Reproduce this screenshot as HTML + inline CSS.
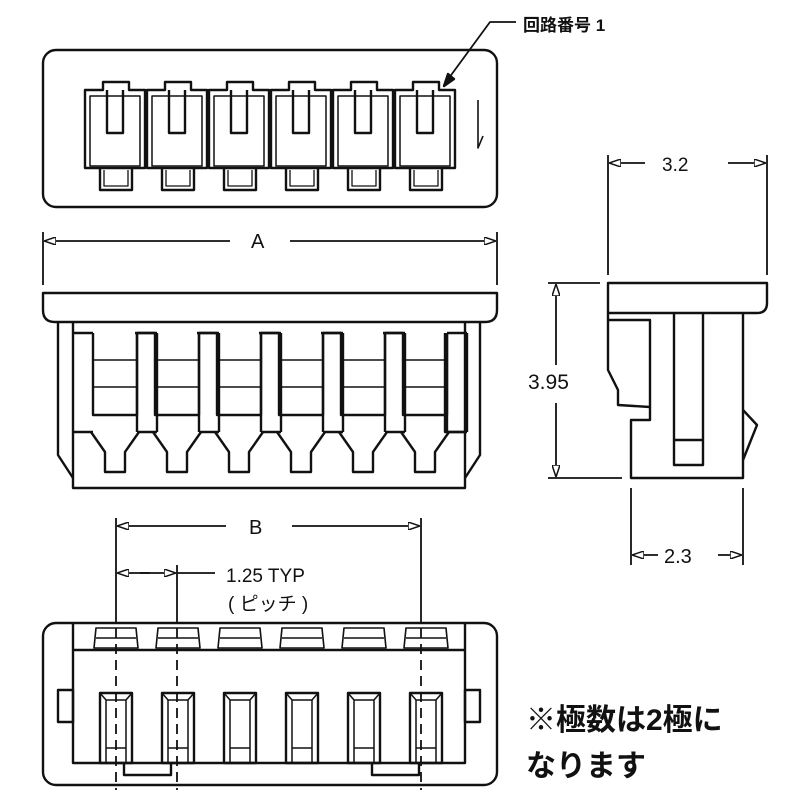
<!DOCTYPE html>
<html><head><meta charset="utf-8">
<style>
html,body{margin:0;padding:0;background:#fff;width:800px;height:800px;overflow:hidden}
svg{display:block}
text{font-family:"Liberation Sans","Noto Sans CJK JP",sans-serif;fill:#111}
</style></head>
<body>
<svg id="s" width="800" height="800" viewBox="0 0 800 800" xmlns="http://www.w3.org/2000/svg">
<defs>
<marker id="ar" markerWidth="12" markerHeight="8" refX="11" refY="4" orient="auto" markerUnits="userSpaceOnUse">
<path d="M0,0 L12,4 L0,8 Z" fill="#fff" stroke="#111" stroke-width="1.5"/>
</marker>
</defs>
<g id="g" fill="none" stroke="#111" stroke-width="2.4" stroke-linejoin="round">
<!-- TOP VIEW -->
<rect x="43" y="50" width="454" height="157" rx="13"/>
<path d="M478 100 L478 148 L483 136" stroke-width="1.6"/>
<path d="M516 22 L490 22 L446 82" stroke-width="1.8"/>
<path d="M444 86 L448 74 L454 79 Z" fill="#111"/>

<!-- FRONT VIEW -->
<path d="M43 293 L497 293 L497 310 Q497 322 485 322 L55 322 Q43 322 43 310 Z"/>
<path d="M58 323 L58 455 L73 478"/>
<path d="M480 323 L480 455 L465 478"/>
<path d="M73 323 L73 488 L465 488 L465 323"/>

<!-- SIDE VIEW -->
<path d="M608 283 L767 283 L767 303 Q767 313 757 313 L608 313 Z"/>
<path d="M608 313 L608 320 L650 320 L650 407 L618 405 L618 390 L608 370 L608 320"/>
<path d="M650 407 L650 420 L631 420 L631 478 L743 478 L743 313"/>
<path d="M674 313 L674 465 L703 465 L703 313"/>
<path d="M675 440 L702 440"/>
<path d="M743 410 L757 425 L743 460"/>

<!-- BOTTOM VIEW -->
<rect x="43" y="623" width="454" height="162" rx="13"/>
<path d="M73 623 L73 763 L465 763 L465 623"/>
<path d="M73 650 L465 650"/>
<rect x="58" y="690" width="15" height="32"/>
<rect x="465" y="690" width="15" height="32"/>
<path d="M124 763 L124 775 L171 775 L171 763"/>
<path d="M372 763 L372 775 L419 775 L419 763"/>
</g>
<g stroke="#111" stroke-width="1.8" fill="none">
<path d="M43 232 L43 285 M497 232 L497 285"/>
<path d="M230 241 L45 241" marker-end="url(#ar)"/>
<path d="M290 241 L495 241" marker-end="url(#ar)"/>
<path d="M608 155 L608 275 M767 155 L767 275"/>
<path d="M645 163 L610 163" marker-end="url(#ar)"/>
<path d="M728 163 L765 163" marker-end="url(#ar)"/>
<path d="M548 283 L600 283 M548 478 L622 478"/>
<path d="M556 365 L556 285" marker-end="url(#ar)"/>
<path d="M556 403 L556 476" marker-end="url(#ar)"/>
<path d="M631 488 L631 565 M743 488 L743 565"/>
<path d="M658 555 L633 555" marker-end="url(#ar)"/>
<path d="M718 555 L741 555" marker-end="url(#ar)"/>
<path d="M116 518 L116 612 M421 518 L421 612 M177 565 L177 612"/>
<path d="M226 526 L118 526" marker-end="url(#ar)"/>
<path d="M292 526 L419 526" marker-end="url(#ar)"/>
<path d="M150 573 L118 573" marker-end="url(#ar)"/>
<path d="M140 573 L175 573" marker-end="url(#ar)"/>
<path d="M177 573 L215 573"/>
<path d="M116 612 L116 790 M177 612 L177 790 M421 612 L421 790" stroke-dasharray="10,6"/>
</g>
<text x="523" y="31" font-size="17" font-weight="bold">回路番号 1</text>
<text x="251" y="248" font-size="20">A</text>
<text x="662" y="171" font-size="19">3.2</text>
<text x="528" y="389" font-size="21">3.95</text>
<text x="664" y="563" font-size="20">2.3</text>
<text x="249" y="534" font-size="20">B</text>
<text x="226" y="582" font-size="19">1.25 TYP</text>
<text x="228" y="610" font-size="19">( ピッチ )</text>
<text x="526" y="730" font-size="30" font-weight="bold">※極数は2極に</text>
<text x="526" y="776" font-size="30" font-weight="bold">なります</text>
</svg>
<script>
var g=document.getElementById('g');var h='';
for(var i=0;i<6;i++){var o=i*62;
h+='<path d="M'+(85+o)+' 168 L'+(85+o)+' 90 L'+(103+o)+' 90 L'+(103+o)+' 82 L'+(129+o)+' 82 L'+(129+o)+' 90 L'+(145+o)+' 90 L'+(145+o)+' 168 Z"/>';
h+='<rect x="'+(90+o)+'" y="96" width="50" height="70" stroke-width="1.5"/>';
h+='<path d="M'+(107+o)+' 90 L'+(107+o)+' 133 L'+(123+o)+' 133 L'+(123+o)+' 90"/>';
h+='<path d="M'+(100+o)+' 168 L'+(100+o)+' 190 L'+(132+o)+' 190 L'+(132+o)+' 168"/>';
h+='<path d="M'+(104+o)+' 170 L'+(104+o)+' 186 L'+(128+o)+' 186 L'+(128+o)+' 170" stroke-width="1.3"/>';
var L=93+o,R=137+o;
h+='<path d="M'+L+' 333 L'+L+' 415 L'+R+' 415 L'+R+' 333"/>';
h+='<path d="M'+L+' 360 L'+R+' 360 M'+L+' 387 L'+R+' 387" stroke-width="1.6"/>';
h+='<path d="M'+(L-20)+' 333 L'+L+' 333 M'+R+' 333 L'+(R+20)+' 333" />';
h+='<path d="M'+(L-2)+' 432 L'+(L+12)+' 452 L'+(L+12)+' 472 L'+(R-12)+' 472 L'+(R-12)+' 452 L'+(R+2)+' 432"/>';
h+='<path d="M'+(R)+' 333 L'+R+' 432 M'+(R+20)+' 333 L'+(R+20)+' 432 M'+R+' 432 L'+(R+20)+' 432"/>';
var bx=100+o;
h+='<rect x="'+bx+'" y="693" width="32" height="70"/>';
h+='<path d="M'+(bx+6)+' 700 L'+(bx+6)+' 763 M'+(bx+26)+' 700 L'+(bx+26)+' 763 M'+bx+' 693 L'+(bx+6)+' 700 L'+(bx+26)+' 700 L'+(bx+32)+' 693 M'+(bx+6)+' 748 L'+(bx+26)+' 748" stroke-width="1.5"/>';
h+='<path d="M'+(bx-4)+' 628 L'+(bx+36)+' 628 L'+(bx+38)+' 648 L'+(bx-6)+' 648 Z M'+(bx-4)+' 638 L'+(bx+36)+' 638" stroke-width="1.6"/>';
}
h+='<path d="M73 432 L93 432 M445 333 L445 432 L465 432"/>';
g.insertAdjacentHTML('beforeend',h);
</script>
</body></html>
